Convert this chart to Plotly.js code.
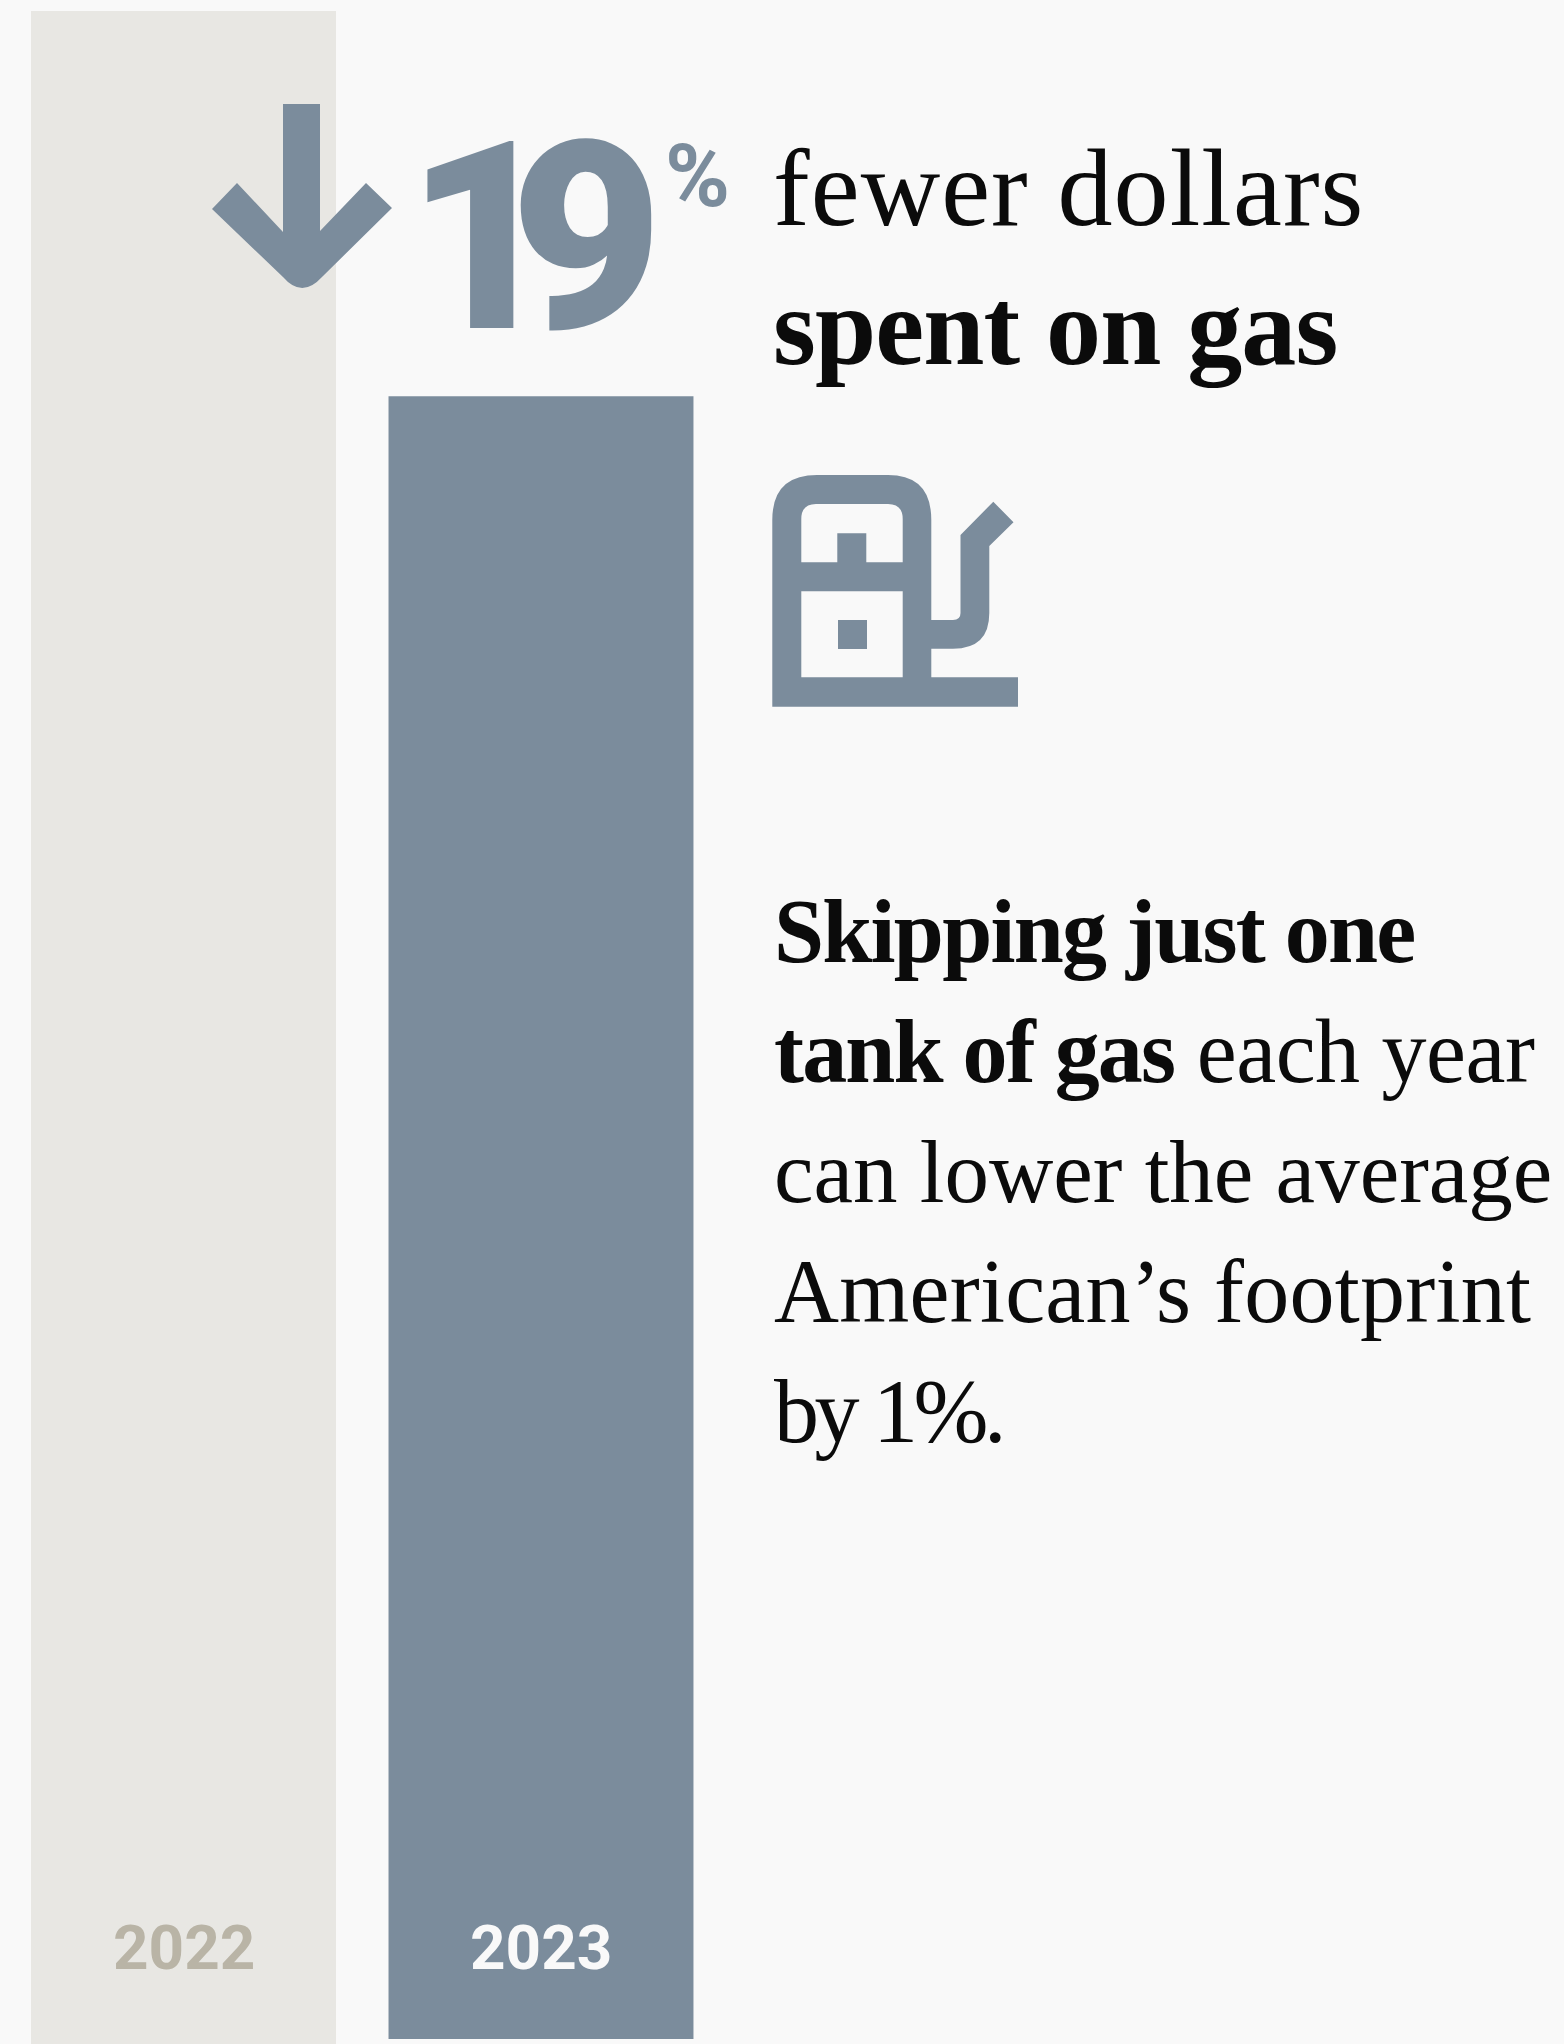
<!DOCTYPE html>
<html>
<head>
<meta charset="utf-8">
<script src="https://cdn.plot.ly/plotly-3.0.1.min.js"></script>
<style>
  html, body { margin: 0; padding: 0; background: #f9f9f9; }
  #chart { width: 1564px; height: 2044px; }
</style>
</head>
<body>
<div id="chart"></div>
<script>
// Gas spending, indexed to the 2022 level
const years = [2022, 2023];
const spending = [100, 81];
const barColors = ['#e8e7e3', '#7b8c9c'];
const yearLabels = ['2022', '2023'];
const yearLabelColors = ['#b9b4a6', '#f9f9f9'];

const W = 1564, H = 2044;
const SLATE = '#7b8c9c';
const INK = '#0b0b0b';
const SERIF = '"Liberation Serif", serif';
const SANS = 'Roboto, sans-serif';

// Page-pixel helpers for the decorative artwork and the copy
const px = v => v / W;
const py = v => 1 - v / H;

// Turns a list of [command, x, y, ...] segments in page pixels into a paper-space path
function pathOf(segments) {
  return segments.map(seg => {
    const [cmd, ...c] = seg;
    const out = [];
    for (let i = 0; i < c.length; i += 2) out.push(px(c[i]) + ' ' + py(c[i + 1]));
    return cmd + ' ' + out.join(' ');
  }).join(' ');
}

const arrowPath = pathOf([
  ['M', 283, 104], ['L', 320, 104], ['L', 320, 231], ['L', 366, 183], ['L', 392, 208],
  ['L', 322, 277], ['Q', 302, 299, 283, 277], ['L', 212, 209], ['L', 237, 183], ['L', 283, 232], ['Z']
]);

const pumpPath = pathOf([
  ['M', 772.3, 706.7], ['L', 772.3, 520], ['Q', 772.3, 475, 817, 475], ['L', 888, 475],
  ['Q', 931.3, 475, 931.3, 520], ['L', 931.3, 620], ['L', 953, 620], ['Q', 960.5, 620, 960.5, 613],
  ['L', 960.5, 535], ['L', 993.3, 501.7], ['L', 1013.5, 522.3], ['L', 989.3, 546], ['L', 989.3, 613],
  ['Q', 989.3, 648.7, 953, 648.7], ['L', 931.3, 648.7], ['L', 931.3, 677.3], ['L', 1018, 677.3],
  ['L', 1018, 706.7], ['Z'],
  ['M', 801.3, 562.3], ['L', 837.3, 562.3], ['L', 837.3, 533.3], ['L', 866.3, 533.3], ['L', 866.3, 562.3],
  ['L', 902.7, 562.3], ['L', 902.7, 519], ['Q', 902.7, 504, 888, 504], ['L', 816, 504],
  ['Q', 801.3, 504, 801.3, 519], ['Z'],
  ['M', 801.3, 677.3], ['L', 902.7, 677.3], ['L', 902.7, 591.3], ['L', 801.3, 591.3], ['Z'],
  ['M', 838, 620], ['L', 867, 620], ['L', 867, 649], ['L', 838, 649], ['Z']
]);

function tracked(text, spacing) {
  return '<span style="letter-spacing:' + spacing + 'px">' + text + '</span>';
}

function copyLine(text, x, y, size, family, color, weight) {
  return {
    text, xref: 'paper', yref: 'paper', x: px(x), y: py(y),
    xanchor: 'left', yanchor: 'bottom', showarrow: false, borderpad: 0,
    font: { family: family || SERIF, size, color: color || INK, weight: weight || 400 }
  };
}

const yearAnnotations = years.map((yr, i) => ({
  text: '<b>' + yearLabels[i] + '</b>', xref: 'x', yref: 'y', x: yr, y: 4.5,
  xanchor: 'center', yanchor: 'middle', showarrow: false,
  font: { family: SANS, size: 62, color: yearLabelColors[i] }
}));

const layout = {
  width: W, height: H,
  margin: { l: 0, r: 0, t: 0, b: 0 },
  paper_bgcolor: '#f9f9f9', plot_bgcolor: '#f9f9f9',
  showlegend: false,
  xaxis: { visible: false, range: [2021.4867, 2025.8616], fixedrange: true },
  yaxis: { visible: false, range: [-0.2465, 100.54], fixedrange: true },
  shapes: [
    // The 2022 column bleeds off the bottom of the page
    { type: 'rect', layer: 'below', xref: 'x', yref: 'y', x0: 2021.5735, x1: 2022.4265, y0: -0.2465, y1: 1,
      fillcolor: barColors[0], line: { width: 0 } },
    { type: 'path', layer: 'above', xref: 'paper', yref: 'paper', path: arrowPath, fillcolor: SLATE, line: { width: 0 } },
    { type: 'path', layer: 'above', xref: 'paper', yref: 'paper', path: pumpPath, fillcolor: SLATE, line: { width: 0 } }
  ],
  annotations: [
    ...yearAnnotations,
    copyLine(tracked('19', -48), 405, 393, 263, SANS, SLATE, 900),
    copyLine('<b>%</b>', 664, 228, 88, SANS, SLATE),
    copyLine(tracked('fewer dollars', 1.1), 772, 250, 110),
    copyLine('<b>' + tracked('spent on gas', -0.85) + '</b>', 772, 389, 110),
    copyLine('<b>' + tracked('Skipping just one', -1.75) + '</b>', 773, 982, 90),
    copyLine('<b>' + tracked('tank of gas', -1.8) + '</b> ' + tracked('each year', -0.5), 773, 1102, 90),
    copyLine('can lower the average', 773, 1222, 89),
    copyLine(tracked('American’s footprint', 0.25), 773, 1342, 90),
    copyLine(tracked('by 1%.', -4.5), 773, 1462, 90)
  ]
};

Plotly.newPlot('chart', [{
  type: 'bar',
  x: years,
  y: spending,
  width: 0.853,
  marker: { color: barColors, line: { width: 0 } },
  hoverinfo: 'skip'
}], layout, { displayModeBar: false, staticPlot: true });
</script>
</body>
</html>
